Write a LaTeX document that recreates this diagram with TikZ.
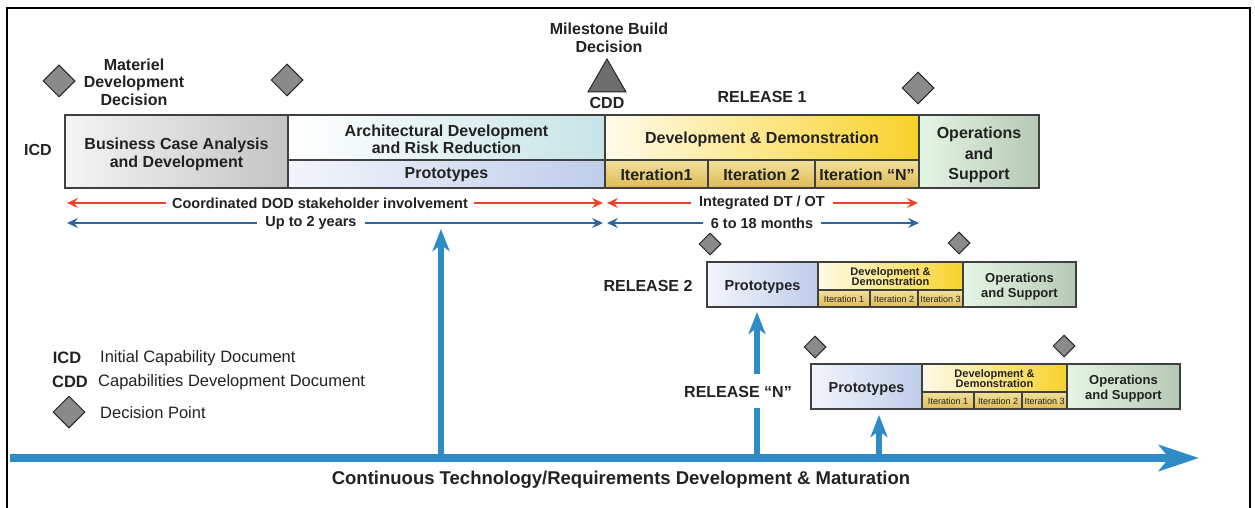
\documentclass[tikz,border=0pt]{standalone}
\usepackage{fontspec}
\setmainfont{Liberation Sans}
\usetikzlibrary{arrows.meta,shapes.geometric}
\definecolor{txt}{HTML}{222222}
\definecolor{redarr}{HTML}{F0412D}
\definecolor{bluearr}{HTML}{2B64A0}
\definecolor{axisblue}{HTML}{2E8BC6}
\definecolor{dpgray}{HTML}{8A8A8A}
\definecolor{trigray}{HTML}{6E6E6E}
\definecolor{bcaL}{HTML}{F4F4F4}
\definecolor{bcaR}{HTML}{C4C4C4}
\definecolor{archL}{HTML}{FFFFFF}
\definecolor{archR}{HTML}{C6E4E6}
\definecolor{protoL}{HTML}{F2F5FB}
\definecolor{protoR}{HTML}{BFCDEB}
\definecolor{ddL}{HTML}{FFFBEA}
\definecolor{ddR}{HTML}{F8D22A}
\definecolor{itT}{HTML}{F2E09C}
\definecolor{itB}{HTML}{DDBB55}
\definecolor{opsL}{HTML}{E6F6E6}
\definecolor{opsR}{HTML}{B5C8B5}
\tikzset{
  big/.style={font=\fontsize{16}{17.5}\selectfont\bfseries},
  mid/.style={font=\fontsize{14.5}{16}\selectfont\bfseries},
  sml/.style={font=\fontsize{11}{10.5}\selectfont\bfseries},
  tinytxt/.style={font=\fontsize{9}{10}\selectfont},
  legtxt/.style={font=\fontsize{16.5}{18}\selectfont},
  box/.style={draw=black!75, line width=1.2pt, anchor=north west, inner sep=0pt, outer sep=0pt},
  bcabox/.style={box, left color=bcaL, right color=bcaR},
  archbox/.style={box, left color=archL, right color=archR},
  protobox/.style={box, left color=protoL, right color=protoR},
  ddbox/.style={box, left color=ddL, right color=ddR},
  itbox/.style={box, top color=itT, bottom color=itB},
  opsbox/.style={box, left color=opsL, right color=opsR},
  btxt/.style={text=txt, align=center, inner sep=0pt},
  dp/.style={diamond, draw=black!85, fill=dpgray, line width=1pt, inner sep=0pt, minimum width=#1, minimum height=#1},
  lbl/.style={text=txt, align=center},
  thinarr/.style={line width=2pt, {Stealth[length=11pt,width=10pt,inset=4pt]}-{Stealth[length=11pt,width=10pt,inset=4pt]}},
  uparr/.style={draw=axisblue, line width=6.5pt, -{Stealth[length=22pt,width=17pt,inset=6pt]}},
}
\begin{document}
\begin{tikzpicture}[x=1pt,y=-1pt]
\useasboundingbox (0,0) rectangle (1255,508);
% frame
\draw[line width=2pt] (7,508) -- (7,8) -- (1250,8) -- (1250,508);

% ---------- Release 1 ----------
\node[bcabox, minimum width=223pt, minimum height=73pt] (bca) at (65,115) {};
\node[archbox, minimum width=317pt, minimum height=45pt] (arch) at (288,115) {};
\node[protobox, minimum width=317pt, minimum height=28pt] (proto1) at (288,160) {};
\node[ddbox, minimum width=314pt, minimum height=45pt] (dd1) at (605,115) {};
\node[itbox, minimum width=103pt, minimum height=28pt] (it11) at (605,160) {};
\node[itbox, minimum width=107pt, minimum height=28pt] (it12) at (708,160) {};
\node[itbox, minimum width=104pt, minimum height=28pt] (it1n) at (815,160) {};
\node[opsbox, minimum width=120pt, minimum height=73pt] (ops1) at (919,115) {};
\node[btxt, big] (bca-t) at ([yshift=-3pt]bca.center) {Business Case Analysis\\and Development};
\node[btxt, big] (arch-t) at ([yshift=-2pt]arch.center) {Architectural Development\\and Risk Reduction};
\node[btxt, big] (proto1-t) at ([yshift=-1pt]proto1.center) {Prototypes};
\node[btxt, big] (dd1-t) at ([yshift=-2pt]dd1.center) {Development \& Demonstration};
\node[btxt, big] (it11-t) at ([yshift=-1pt]it11.center) {Iteration1};
\node[btxt, big] (it12-t) at ([yshift=-1pt]it12.center) {Iteration 2};
\node[btxt, big] (it1n-t) at ([yshift=-1pt]it1n.center) {Iteration “N”};
\node[btxt, font=\fontsize{16}{20.5}\selectfont\bfseries] (ops1-t) at ([yshift=-3.5pt]ops1.center) {Operations\\and\\Support};

% ---------- Release 2 ----------
\node[protobox, minimum width=111pt, minimum height=45pt] (proto2) at (707,262) {};
\node[ddbox, minimum width=145pt, minimum height=28pt] (dd2) at (818,262) {};
\node[itbox, minimum width=52pt, minimum height=17pt] (it21) at (818,290) {};
\node[itbox, minimum width=48pt, minimum height=17pt] (it22) at (870,290) {};
\node[itbox, minimum width=45pt, minimum height=17pt] (it23) at (918,290) {};
\node[opsbox, minimum width=113pt, minimum height=45pt] (ops2) at (963,262) {};
\node[btxt, mid] (proto2-t) at ([yshift=-2.5pt]proto2.center) {Prototypes};
\node[btxt, sml] (dd2-t) at ([yshift=-0.5pt]dd2.center) {Development \&\\Demonstration};
\node[btxt, tinytxt] (it21-t) at ([yshift=-0.5pt]it21.center) {Iteration 1};
\node[btxt, tinytxt] (it22-t) at ([yshift=-0.5pt]it22.center) {Iteration 2};
\node[btxt, tinytxt] (it23-t) at ([yshift=-0.5pt]it23.center) {Iteration 3};
\node[btxt, font=\fontsize{13}{15}\selectfont\bfseries] (ops2-t) at ([yshift=-2.5pt]ops2.center) {Operations\\and Support};

% ---------- Release N ----------
\node[protobox, minimum width=111pt, minimum height=45pt] (protoN) at (811,364) {};
\node[ddbox, minimum width=145pt, minimum height=28pt] (ddN) at (922,364) {};
\node[itbox, minimum width=52pt, minimum height=17pt] (itN1) at (922,392) {};
\node[itbox, minimum width=48pt, minimum height=17pt] (itN2) at (974,392) {};
\node[itbox, minimum width=45pt, minimum height=17pt] (itN3) at (1022,392) {};
\node[opsbox, minimum width=113pt, minimum height=45pt] (opsN) at (1067,364) {};
\node[btxt, mid] (protoN-t) at ([yshift=-2.5pt]protoN.center) {Prototypes};
\node[btxt, sml] (ddN-t) at ([yshift=-0.5pt]ddN.center) {Development \&\\Demonstration};
\node[btxt, tinytxt] (itN1-t) at ([yshift=-0.5pt]itN1.center) {Iteration 1};
\node[btxt, tinytxt] (itN2-t) at ([yshift=-0.5pt]itN2.center) {Iteration 2};
\node[btxt, tinytxt] (itN3-t) at ([yshift=-0.5pt]itN3.center) {Iteration 3};
\node[btxt, font=\fontsize{13}{15}\selectfont\bfseries] (opsN-t) at ([yshift=-2.5pt]opsN.center) {Operations\\and Support};

% ---------- labels ----------
\node[lbl, big] (icd) at (38,150) {ICD};
\node[lbl, big] (mdd) at (134,82) {Materiel\\Development\\Decision};
\node[lbl, big] (mbd) at (609,38) {Milestone Build\\Decision};
\node[lbl, big] (cdd) at (607,103) {CDD};
\node[lbl, big] (rel1) at (762,97) {RELEASE 1};
\node[lbl, big] (rel2) at (648,286) {RELEASE 2};
\node[lbl, big] (relN) at (738,392) {RELEASE “N”};

% ---------- decision points ----------
\node[dp=32pt] (d1) at (59,81) {};
\node[dp=32pt] (d2) at (287,80) {};
\node[dp=32pt] (d3) at (918,88) {};
\node[dp=22pt] (d4) at (710,244) {};
\node[dp=22pt] (d5) at (959,243) {};
\node[dp=22pt] (d6) at (815,347) {};
\node[dp=22pt] (d7) at (1064,346) {};
\node[regular polygon, regular polygon sides=3, minimum size=44pt, inner sep=0pt, draw=black!85, fill=trigray, line width=1pt] (tri) at (607,81) {};

% ---------- span arrows ----------
\coordinate (ra1) at (67,203); \coordinate (rb1) at (603,203);
\coordinate (ra2) at (607,203); \coordinate (rb2) at (918,203);
\coordinate (ba1) at (67,223); \coordinate (bb1) at (603,223);
\coordinate (ba2) at (607,223); \coordinate (bb2) at (919,223);
\draw[thinarr, draw=redarr, fill=redarr] (ra1) -- (rb1);
\draw[thinarr, draw=redarr, fill=redarr] (ra2) -- (rb2);
\draw[thinarr, draw=bluearr, fill=bluearr] (ba1) -- (bb1);
\draw[thinarr, draw=bluearr, fill=bluearr] (ba2) -- (bb2);
\node[lbl, fill=white, inner xsep=6pt, inner ysep=1pt, font=\fontsize{14.5}{16}\selectfont\bfseries] (t1) at (320,203) {Coordinated DOD stakeholder involvement};
\node[lbl, fill=white, inner xsep=8pt, inner ysep=1pt, font=\fontsize{14.5}{16}\selectfont\bfseries] (t2) at (762,203) {Integrated DT / OT};
\node[lbl, fill=white, inner xsep=8pt, inner ysep=1pt, font=\fontsize{14.5}{16}\selectfont\bfseries] (t3) at (311,223) {Up to 2 years};
\node[lbl, fill=white, inner xsep=8pt, inner ysep=1pt, font=\fontsize{14.5}{16}\selectfont\bfseries] (t4) at (762,223) {6 to 18 months};

% ---------- main axis ----------
\coordinate (axs) at (10,458);
\coordinate (axe) at (1199,458);
\draw[draw=axisblue, line width=8pt, -{Stealth[length=40pt,width=26pt,inset=10pt]}] (axs) -- (axe);
\node[lbl, font=\fontsize{18.5}{20}\selectfont\bfseries] (axl) at (621,480) {Continuous Technology/Requirements Development \& Maturation};

% ---------- up arrows ----------
\coordinate (u1) at (441,458); \coordinate (u1t) at (441,229);
\coordinate (u2) at (757,458); \coordinate (u2a) at (757,408); \coordinate (u2b) at (757,374); \coordinate (u2t) at (757,312);
\coordinate (u3) at (879,458); \coordinate (u3t) at (879,415);
\draw[uparr] (u1) -- (u1t);
\draw[draw=axisblue, line width=6.5pt] (u2) -- (u2a);
\draw[uparr] (u2b) -- (u2t);
\draw[uparr] (u3) -- (u3t);

% ---------- legend ----------
\node[lbl, font=\fontsize{16.5}{18}\selectfont\bfseries] (lg1) at (67,358) {ICD};
\node[text=txt, legtxt, anchor=west, inner sep=0pt] (lg1t) at (100,358) {Initial Capability Document};
\node[lbl, font=\fontsize{16.5}{18}\selectfont\bfseries] (lg2) at (70,382) {CDD};
\node[text=txt, legtxt, anchor=west, inner sep=0pt] (lg2t) at (98,382) {Capabilities Development Document};
\node[dp=32pt] (lg3) at (69,412) {};
\node[text=txt, legtxt, anchor=west, inner sep=0pt] (lg3t) at (100,413) {Decision Point};
\end{tikzpicture}
\end{document}
